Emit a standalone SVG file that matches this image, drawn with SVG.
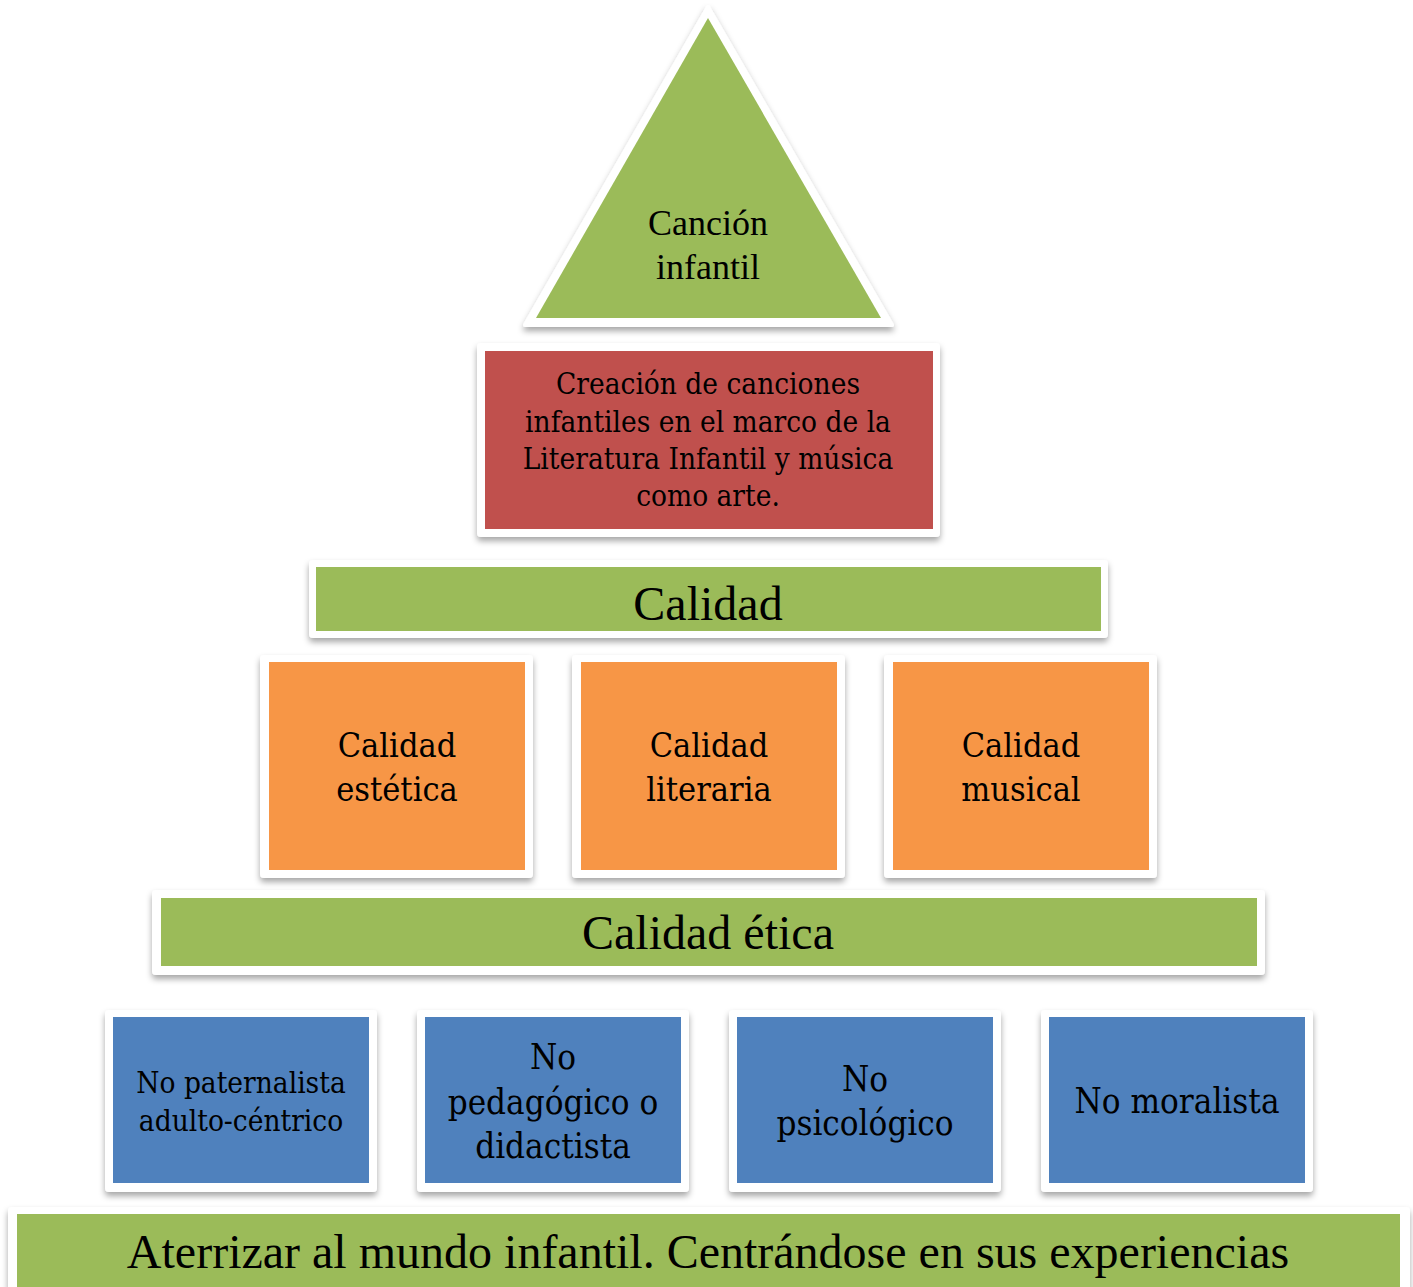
<svg xmlns="http://www.w3.org/2000/svg" width="1413" height="1287" viewBox="0 0 1413 1287">
<defs>
<filter id="sh" x="-10%" y="-10%" width="120%" height="130%">
<feDropShadow dx="0" dy="4" stdDeviation="3" flood-color="#000" flood-opacity="0.35"/>
</filter>
<style>
.frame{fill:#fff;filter:url(#sh)}
.g{fill:#9BBB59}.r{fill:#C0504D}.o{fill:#F79646}.b{fill:#4F81BD}
.t{font-family:"Liberation Serif",serif;fill:#000;text-anchor:middle}
.c{font-family:"DejaVu Serif Condensed","DejaVu Serif",serif;fill:#000;text-anchor:middle}
.s1{font-size:29.5px}.s2{font-size:34px}.s3{font-size:34.7px}
</style>
</defs>
<rect width="1413" height="1287" fill="#fff"/>
<g id="top">
<polygon class="frame" points="708,7 892,325 525,325" stroke="#fff" stroke-width="4" stroke-linejoin="round"/>
<polygon class="g" points="708,18 881,318 536,318"/>
<text class="t" font-size="36" x="708" y="235">Canción</text>
<text class="t" font-size="36" x="708" y="279">infantil</text>
</g>
<g id="creacion">
<rect class="frame" x="477" y="343" width="463" height="194" rx="4"/>
<rect class="r" x="485" y="351" width="448" height="178"/>
<text class="c s1" x="708" y="394">Creación de canciones</text>
<text class="c s1" x="708" y="432">infantiles en el marco de la</text>
<text class="c s1" x="708" y="469">Literatura Infantil y música</text>
<text class="c s1" x="708" y="506">como arte.</text>
</g>
<g id="calidad">
<rect class="frame" x="309" y="560" width="799" height="78" rx="4"/>
<rect class="g" x="316" y="567" width="785" height="64"/>
<text class="t" font-size="48" x="708" y="620">Calidad</text>
</g>
<g id="estetica">
<rect class="frame" x="260" y="655" width="273" height="223" rx="4"/>
<rect class="o" x="269" y="662" width="256" height="208"/>
<text class="c s2" x="397" y="757">Calidad</text>
<text class="c s2" x="397" y="801">estética</text>
</g>
<g id="literaria">
<rect class="frame" x="572" y="655" width="273" height="223" rx="4"/>
<rect class="o" x="581" y="662" width="256" height="208"/>
<text class="c s2" x="709" y="757">Calidad</text>
<text class="c s2" x="709" y="801">literaria</text>
</g>
<g id="musical">
<rect class="frame" x="884" y="655" width="273" height="223" rx="4"/>
<rect class="o" x="893" y="662" width="256" height="208"/>
<text class="c s2" x="1021" y="757">Calidad</text>
<text class="c s2" x="1021" y="801">musical</text>
</g>
<g id="etica">
<rect class="frame" x="152" y="890" width="1113" height="85" rx="4"/>
<rect class="g" x="161" y="898" width="1096" height="68"/>
<text class="t" font-size="48" x="708" y="949">Calidad ética</text>
</g>
<g id="paternalista">
<rect class="frame" x="105" y="1010" width="272" height="182" rx="4"/>
<rect class="b" x="113" y="1017" width="256" height="166"/>
<text class="c s1" x="241" y="1093">No paternalista</text>
<text class="c s1" x="241" y="1131">adulto-céntrico</text>
</g>
<g id="pedagogico">
<rect class="frame" x="417" y="1010" width="272" height="182" rx="4"/>
<rect class="b" x="425" y="1017" width="256" height="166"/>
<text class="c s3" x="553" y="1069">No</text>
<text class="c s3" x="553" y="1114">pedagógico o</text>
<text class="c s3" x="553" y="1158">didactista</text>
</g>
<g id="psicologico">
<rect class="frame" x="729" y="1010" width="272" height="182" rx="4"/>
<rect class="b" x="737" y="1017" width="256" height="166"/>
<text class="c s3" x="865" y="1091">No</text>
<text class="c s3" x="865" y="1135">psicológico</text>
</g>
<g id="moralista">
<rect class="frame" x="1041" y="1010" width="272" height="182" rx="4"/>
<rect class="b" x="1049" y="1017" width="256" height="166"/>
<text class="c s3" x="1177" y="1113">No moralista</text>
</g>
<g id="aterrizar">
<rect class="frame" x="8" y="1207" width="1402" height="100" rx="4"/>
<rect class="g" x="17" y="1214" width="1383" height="90"/>
<text class="t" font-size="48" x="708" y="1268">Aterrizar al mundo infantil. Centrándose en sus experiencias</text>
</g>
<g id="connectors"/>
</svg>
